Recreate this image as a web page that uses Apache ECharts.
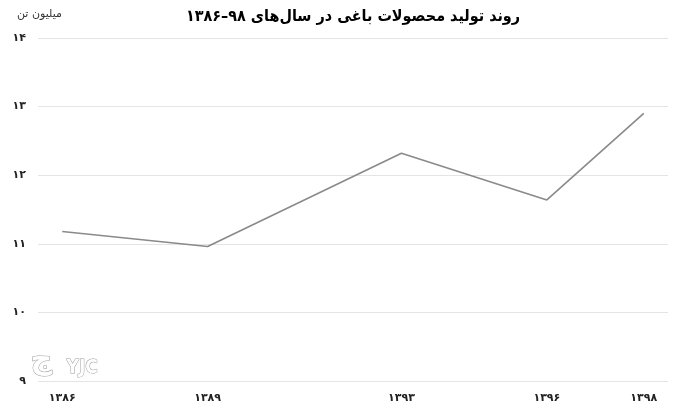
<!DOCTYPE html>
<html><head><meta charset="utf-8">
<script src="https://cdn.jsdelivr.net/npm/echarts@6/dist/echarts.min.js"></script>
<style>html,body{margin:0;padding:0;background:#fff}#c{width:676px;height:409px}</style>
</head><body><div id="c"></div>
<script>
const years = [1386, 1389, 1393, 1396, 1398];
const production = [11.18, 10.96, 12.32, 11.64, 12.90];
const titleText = 'روند تولید محصولات باغی در سال‌های ۹۸–۱۳۸۶';
const unitText = 'میلیون تن';
const yTicks = [9, 10, 11, 12, 13, 14];

const fa = n => String(n).replace(/[0-9]/g, d => '۰۱۲۳۴۵۶۷۸۹'[d]);
const font = "'DejaVu Sans', sans-serif";

const chart = echarts.init(document.getElementById('c'), null, {renderer: 'canvas'});
chart.setOption({
  animation: false,
  backgroundColor: '#fff',
  title: {
    text: titleText, left: 348, textAlign: 'center', top: 4,
    textStyle: {fontFamily: "'DejaVu Sans Condensed', 'DejaVu Sans', sans-serif", fontWeight: 'bold', fontSize: 16, color: '#000'}
  },
  graphic: [
    {type: 'text', left: 17, top: 9, style: {text: unitText, font: "11px 'DejaVu Sans', sans-serif", fill: '#333'}},
    {type: 'text', left: 66, top: 358, style: {text: 'YJC', font: "bold 19px 'DejaVu Sans Condensed', sans-serif", fill: '#fff', stroke: '#999', lineWidth: 1}},
    {type: 'text', left: 30, top: 346, style: {text: 'ج', font: "bold 30px 'DejaVu Sans', sans-serif", fill: '#fff', stroke: '#999', lineWidth: 1}}
  ],
  grid: {left: 38, right: 8, top: 38, bottom: 28, containLabel: false},
  xAxis: {
    type: 'value', min: 1385.5, max: 1398.5,
    axisLine: {show: false}, axisTick: {show: false}, splitLine: {show: false},
    axisLabel: {
      customValues: years, margin: 12,
      formatter: v => fa(v),
      fontFamily: font, fontWeight: 'bold', fontSize: 11, color: '#222'
    }
  },
  yAxis: {
    type: 'value', min: 9, max: 14, interval: 1,
    axisLine: {show: false}, axisTick: {show: false},
    splitLine: {lineStyle: {color: '#e4e4e4', width: 1}},
    axisLabel: {margin: 12, formatter: v => fa(v), fontFamily: font, fontWeight: 'bold', fontSize: 11, color: '#222'}
  },
  series: [{
    type: 'line',
    data: years.map((y, i) => [y, production[i]]),
    showSymbol: false,
    lineStyle: {color: '#8a8a8a', width: 1.6}
  }]
});
</script></body></html>
